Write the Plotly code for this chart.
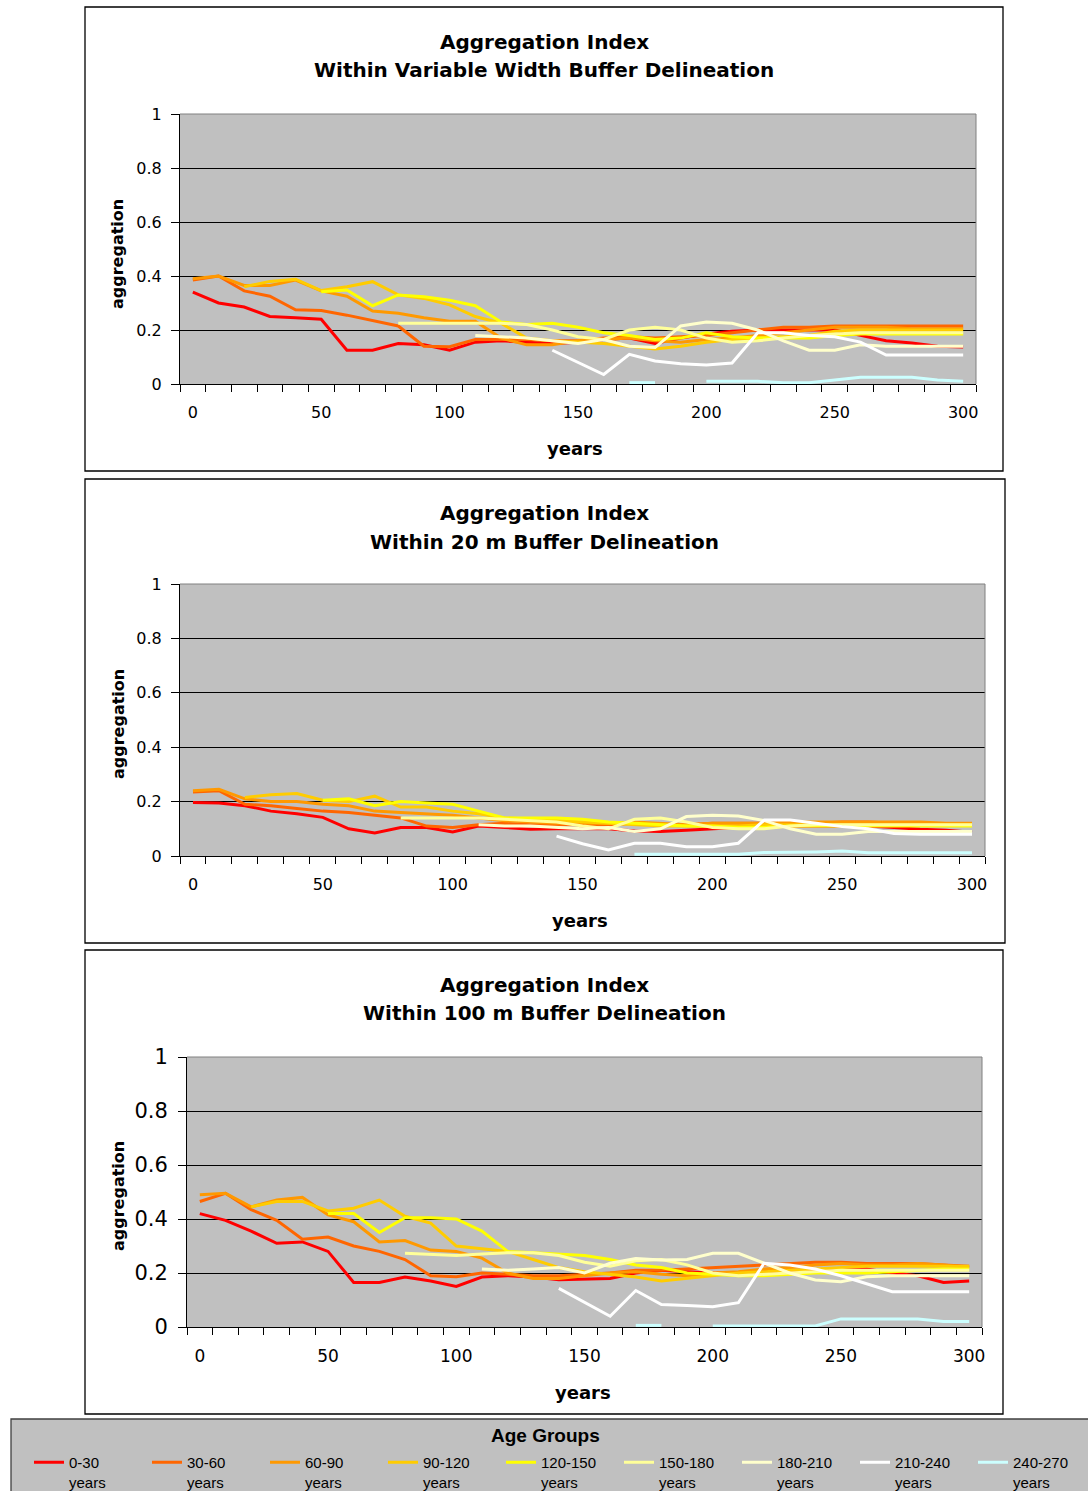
import plotly.graph_objects as go

# ---------------- data ----------------
YEARS = list(range(0, 301, 10))
AGE_GROUPS = ["0-30", "30-60", "60-90", "90-120", "120-150",
              "150-180", "180-210", "210-240", "240-270"]
N = None

# Variable width buffer
VW_0_30 = [0.34, 0.30, 0.285, 0.25, 0.245, 0.24, 0.125, 0.125, 0.15, 0.145, 0.125, 0.155, 0.16, 0.155, 0.15, 0.155,
           0.165, 0.17, 0.15, 0.17, 0.185, 0.195, 0.2, 0.2, 0.2, 0.2, 0.18, 0.16, 0.152, 0.14, 0.137]
VW_30_60 = [0.385, 0.40, 0.345, 0.325, 0.275, 0.272, 0.255, 0.235, 0.215, 0.14, 0.138, 0.165, 0.165, 0.165, 0.16, 0.16,
            0.17, 0.175, 0.17, 0.175, 0.18, 0.19, 0.2, 0.21, 0.21, 0.215, 0.215, 0.215, 0.215, 0.215, 0.215]
VW_60_90 = [0.39, 0.40, 0.365, 0.365, 0.385, 0.345, 0.325, 0.27, 0.262, 0.245, 0.232, 0.232, 0.17, 0.145, 0.145, 0.16,
            0.165, 0.17, 0.16, 0.155, 0.165, 0.17, 0.18, 0.19, 0.2, 0.21, 0.21, 0.21, 0.205, 0.205, 0.205]
VW_90_120 = [N, N, 0.36, 0.38, 0.388, 0.346, 0.36, 0.379, 0.33, 0.317, 0.293, 0.25, 0.225, 0.17, 0.16, 0.155,
             0.15, 0.14, 0.13, 0.14, 0.155, 0.165, 0.17, 0.175, 0.18, 0.195, 0.2, 0.2, 0.2, 0.2, 0.2]
VW_120_150 = [N, N, N, N, N, 0.342, 0.348, 0.29, 0.33, 0.323, 0.31, 0.29, 0.23, 0.22, 0.225, 0.21,
              0.19, 0.18, 0.165, 0.17, 0.19, 0.175, 0.17, 0.17, 0.17, 0.18, 0.185, 0.185, 0.185, 0.185, 0.185]
VW_150_180 = [N, N, N, N, N, N, N, N, 0.225, 0.225, 0.225, 0.225, 0.225, 0.22, 0.2, 0.175,
              0.165, 0.2, 0.21, 0.2, 0.17, 0.155, 0.16, 0.17, 0.18, 0.185, 0.19, 0.19, 0.19, 0.19, 0.19]
VW_180_210 = [N, N, N, N, N, N, N, N, N, N, N, 0.18, 0.175, 0.17, 0.16, 0.15,
              0.165, 0.14, 0.135, 0.215, 0.23, 0.225, 0.2, 0.16, 0.125, 0.125, 0.145, 0.14, 0.14, 0.14, 0.14]
VW_210_240 = [N, N, N, N, N, N, N, N, N, N, N, N, N, N, 0.125, 0.08,
              0.035, 0.11, 0.085, 0.075, 0.07, 0.078, 0.19, 0.19, 0.18, 0.175, 0.155, 0.107, 0.107, 0.107, 0.107]
VW_240_270 = [N, N, N, N, N, N, N, N, N, N, N, N, N, N, N, N,
              N, 0.005, 0.005, N, 0.01, 0.01, 0.01, 0.005, 0.005, 0.015, 0.025, 0.025, 0.025, 0.015, 0.01]

# 20 m buffer
M20_0_30 = [0.197, 0.195, 0.185, 0.165, 0.155, 0.142, 0.1, 0.085, 0.105, 0.105, 0.088, 0.11, 0.105, 0.098, 0.1, 0.1,
            0.1, 0.092, 0.09, 0.095, 0.1, 0.105, 0.11, 0.11, 0.11, 0.11, 0.11, 0.105, 0.098, 0.095, 0.087]
M20_30_60 = [0.235, 0.24, 0.19, 0.185, 0.175, 0.165, 0.16, 0.15, 0.14, 0.11, 0.105, 0.115, 0.12, 0.115, 0.115, 0.115,
             0.115, 0.12, 0.115, 0.115, 0.12, 0.12, 0.12, 0.12, 0.12, 0.125, 0.125, 0.12, 0.12, 0.115, 0.115]
M20_60_90 = [0.24, 0.245, 0.21, 0.2, 0.2, 0.19, 0.185, 0.165, 0.16, 0.155, 0.15, 0.14, 0.13, 0.125, 0.12, 0.12,
             0.12, 0.125, 0.12, 0.115, 0.12, 0.12, 0.12, 0.125, 0.125, 0.125, 0.125, 0.125, 0.125, 0.12, 0.12]
M20_90_120 = [N, N, 0.215, 0.225, 0.23, 0.205, 0.2, 0.22, 0.18, 0.18, 0.165, 0.155, 0.14, 0.135, 0.13, 0.125,
              0.12, 0.115, 0.11, 0.11, 0.11, 0.11, 0.115, 0.115, 0.115, 0.115, 0.115, 0.115, 0.115, 0.115, 0.115]
M20_120_150 = [N, N, N, N, N, 0.205, 0.21, 0.185, 0.2, 0.195, 0.19, 0.165, 0.14, 0.14, 0.14, 0.135,
               0.125, 0.12, 0.115, 0.11, 0.11, 0.105, 0.105, 0.11, 0.11, 0.11, 0.11, 0.11, 0.11, 0.11, 0.11]
M20_150_180 = [N, N, N, N, N, N, N, N, 0.14, 0.14, 0.14, 0.14, 0.135, 0.13, 0.125, 0.11,
               0.1, 0.135, 0.14, 0.125, 0.105, 0.1, 0.1, 0.11, 0.115, 0.115, 0.115, 0.115, 0.115, 0.115, 0.115]
M20_180_210 = [N, N, N, N, N, N, N, N, N, N, N, 0.115, 0.11, 0.11, 0.105, 0.1,
               0.105, 0.09, 0.1, 0.145, 0.15, 0.147, 0.13, 0.1, 0.08, 0.08, 0.09, 0.09, 0.09, 0.09, 0.09]
M20_210_240 = [N, N, N, N, N, N, N, N, N, N, N, N, N, N, 0.073, 0.045,
               0.022, 0.047, 0.047, 0.034, 0.034, 0.047, 0.132, 0.132, 0.12, 0.108, 0.1, 0.083, 0.08, 0.08, 0.08]
M20_240_270 = [N, N, N, N, N, N, N, N, N, N, N, N, N, N, N, N,
               N, 0.006, 0.006, 0.006, 0.006, 0.006, 0.013, 0.013, 0.015, 0.018, 0.012, 0.012, 0.012, 0.012, 0.012]

# 100 m buffer
M100_0_30 = [0.42, 0.395, 0.355, 0.31, 0.315, 0.28, 0.165, 0.165, 0.185, 0.17, 0.15, 0.185, 0.19, 0.185, 0.175, 0.178,
             0.18, 0.2, 0.21, 0.205, 0.2, 0.2, 0.205, 0.21, 0.21, 0.215, 0.215, 0.2, 0.19, 0.165, 0.17]
M100_30_60 = [0.465, 0.495, 0.435, 0.395, 0.325, 0.333, 0.3, 0.28, 0.25, 0.19, 0.186, 0.2, 0.195, 0.19, 0.19, 0.195,
              0.2, 0.21, 0.21, 0.215, 0.22, 0.225, 0.23, 0.235, 0.24, 0.24, 0.235, 0.235, 0.235, 0.23, 0.225]
M100_60_90 = [0.49, 0.495, 0.445, 0.47, 0.48, 0.415, 0.39, 0.315, 0.32, 0.285, 0.28, 0.255, 0.2, 0.18, 0.18, 0.19,
              0.2, 0.205, 0.195, 0.19, 0.2, 0.205, 0.215, 0.22, 0.23, 0.235, 0.23, 0.23, 0.235, 0.23, 0.22]
M100_90_120 = [N, N, 0.445, 0.465, 0.465, 0.43, 0.44, 0.47, 0.41, 0.385, 0.3, 0.29, 0.28, 0.25, 0.22, 0.205,
               0.195, 0.185, 0.17, 0.18, 0.19, 0.2, 0.205, 0.21, 0.215, 0.22, 0.225, 0.225, 0.225, 0.225, 0.225]
M100_120_150 = [N, N, N, N, N, 0.42, 0.42, 0.35, 0.405, 0.405, 0.4, 0.355, 0.28, 0.275, 0.27, 0.265,
                0.25, 0.23, 0.22, 0.2, 0.195, 0.19, 0.19, 0.195, 0.2, 0.2, 0.2, 0.205, 0.21, 0.215, 0.215]
M100_150_180 = [N, N, N, N, N, N, N, N, 0.273, 0.27, 0.265, 0.27, 0.275, 0.275, 0.265, 0.24,
                0.225, 0.245, 0.25, 0.23, 0.2, 0.19, 0.195, 0.2, 0.205, 0.21, 0.21, 0.21, 0.21, 0.21, 0.21]
M100_180_210 = [N, N, N, N, N, N, N, N, N, N, N, 0.215, 0.21, 0.215, 0.22, 0.2,
                0.236, 0.254, 0.248, 0.25, 0.273, 0.273, 0.236, 0.2, 0.174, 0.168, 0.186, 0.19, 0.19, 0.19, 0.19]
M100_210_240 = [N, N, N, N, N, N, N, N, N, N, N, N, N, N, 0.143, 0.09,
                0.04, 0.135, 0.083, 0.08, 0.075, 0.09, 0.236, 0.23, 0.215, 0.19, 0.16, 0.131, 0.131, 0.131, 0.131]
M100_240_270 = [N, N, N, N, N, N, N, N, N, N, N, N, N, N, N, N,
                N, 0.006, 0.006, N, 0.004, 0.004, 0.004, 0.004, 0.004, 0.03, 0.03, 0.03, 0.03, 0.02, 0.02]

VW_SERIES = [VW_0_30, VW_30_60, VW_60_90, VW_90_120, VW_120_150, VW_150_180, VW_180_210, VW_210_240, VW_240_270]
M20_SERIES = [M20_0_30, M20_30_60, M20_60_90, M20_90_120, M20_120_150, M20_150_180, M20_180_210, M20_210_240, M20_240_270]
M100_SERIES = [M100_0_30, M100_30_60, M100_60_90, M100_90_120, M100_120_150, M100_150_180, M100_180_210,
               M100_210_240, M100_240_270]

Y_TICKS = [0, 0.2, 0.4, 0.6, 0.8, 1.0]
Y_TICKTEXT = ["0", "0.2", "0.4", "0.6", "0.8", "1"]
X_TICKS = [0, 50, 100, 150, 200, 250, 300]

# ---------------- styling ----------------
COLORS = ["#FF0000", "#FF6600", "#FF9900", "#FFCC00", "#FFFF00",
          "#FFFF99", "#FFFFCC", "#FFFFFF", "#CCFFFF"]
W, H = 1088, 1491
BOLD = "DejaVu Sans"
REG = "DejaVu Sans"


def px(x):
    return x / W


def py(y):
    return 1 - y / H


PANELS = [
    dict(series=VW_SERIES, x0=180, x1=976, y0=114, y1=384, box=(85, 7, 1003, 471),
         title=("Aggregation Index", "Within Variable Width Buffer Delineation"), ty=(42, 70),
         ysize=16, xsize=16, ylab=(118, 254), xlab=(575, 449)),
    dict(series=M20_SERIES, x0=180, x1=985, y0=584, y1=856, box=(85, 479, 1005, 943),
         title=("Aggregation Index", "Within 20 m Buffer Delineation"), ty=(513, 542),
         ysize=16, xsize=16, ylab=(118, 724), xlab=(580, 920)),
    dict(series=M100_SERIES, x0=187, x1=982, y0=1057, y1=1327, box=(85, 950, 1003, 1414),
         title=("Aggregation Index", "Within 100 m Buffer Delineation"), ty=(985, 1013),
         ysize=21, xsize=17, ylab=(118, 1196), xlab=(583, 1392)),
]

fig = go.Figure()
shapes = []
annotations = []
layout_axes = {}

for i, p in enumerate(PANELS):
    sfx = "" if i == 0 else str(i + 1)
    xa, ya = "x" + sfx, "y" + sfx
    for j, (vals, name, col) in enumerate(zip(p["series"], AGE_GROUPS, COLORS)):
        fig.add_trace(go.Scatter(
            x=YEARS, y=vals, mode="lines", xaxis=xa, yaxis=ya,
            name=name + "<br>years", legendgroup=name, showlegend=(i == 0),
            line=dict(color=col, width=3), connectgaps=False, hoverinfo="skip"))
    layout_axes["xaxis" + sfx] = dict(
        domain=[px(p["x0"]), px(p["x1"])], anchor=ya, range=[-5, 305],
        tickmode="array", tickvals=X_TICKS, ticks="", showgrid=False, zeroline=False,
        showline=True, linecolor="black", linewidth=1,
        tickfont=dict(family=REG, size=p["xsize"], color="black"), ticklabelstandoff=14,
        minor=dict(tick0=-5, dtick=10, ticks="outside", ticklen=7, tickcolor="black",
                   tickwidth=1, showgrid=False),
        fixedrange=True)
    layout_axes["yaxis" + sfx] = dict(
        domain=[py(p["y1"]), py(p["y0"])], anchor=xa, range=[0, 1],
        tickmode="array", tickvals=Y_TICKS, ticktext=Y_TICKTEXT,
        ticks="outside", ticklen=8, tickcolor="black", tickwidth=1,
        showgrid=True, gridcolor="black", gridwidth=1, zeroline=False,
        showline=True, linecolor="black", linewidth=1,
        tickfont=dict(family=REG, size=p["ysize"], color="black"), ticklabelstandoff=6,
        fixedrange=True)
    bx0, by0, bx1, by1 = p["box"]
    shapes.append(dict(type="rect", xref="paper", yref="paper", x0=px(bx0), x1=px(bx1),
                       y0=py(by1), y1=py(by0), line=dict(color="black", width=1.3), layer="below"))
    shapes.append(dict(type="line", xref=xa + " domain", yref=ya + " domain", x0=0, x1=1, y0=1, y1=1,
                       line=dict(color="#808080", width=1)))
    shapes.append(dict(type="line", xref=xa + " domain", yref=ya + " domain", x0=1, x1=1, y0=0, y1=1,
                       line=dict(color="#808080", width=1)))
    for txt, yy in zip(p["title"], p["ty"]):
        annotations.append(dict(text=txt, xref="paper", yref="paper", x=px(544), y=py(yy),
                                xanchor="center", yanchor="middle", showarrow=False,
                                font=dict(family=BOLD, size=20, color="black", weight="bold")))
    annotations.append(dict(text="aggregation", xref="paper", yref="paper", x=px(p["ylab"][0]),
                            y=py(p["ylab"][1]), xanchor="center", yanchor="middle", textangle=-90,
                            showarrow=False, font=dict(family=BOLD, size=16, color="black", weight="bold")))
    annotations.append(dict(text="years", xref="paper", yref="paper", x=px(p["xlab"][0]),
                            y=py(p["xlab"][1]), xanchor="center", yanchor="middle",
                            showarrow=False, font=dict(family=BOLD, size=18, color="black", weight="bold")))

# legend background box
shapes.append(dict(type="rect", xref="paper", yref="paper", x0=px(11), x1=px(1095), y0=py(1495), y1=py(1419),
                   fillcolor="#C0C0C0", line=dict(color="#404040", width=1.3), layer="below"))
annotations.append(dict(text="Age Groups", xref="paper", yref="paper", x=px(545), y=py(1435),
                        xanchor="center", yanchor="middle", showarrow=False,
                        font=dict(family="Liberation Sans", size=19, color="black", weight="bold")))

fig.update_layout(
    width=W, height=H, autosize=False,
    margin=dict(l=0, r=0, t=0, b=0, pad=0, autoexpand=False),
    paper_bgcolor="white", plot_bgcolor="#C0C0C0",
    shapes=shapes, annotations=annotations,
    showlegend=True,
    legend=dict(orientation="h", xref="container", yref="container",
                x=px(29), y=py(1446), xanchor="left", yanchor="top",
                bgcolor="rgba(0,0,0,0)", borderwidth=0, valign="top",
                entrywidth=73, entrywidthmode="pixels", itemwidth=30,
                font=dict(family="Liberation Sans", size=15, color="black"),
                itemclick=False, itemdoubleclick=False),
    **layout_axes,
)

fig.write_html("out.html")
